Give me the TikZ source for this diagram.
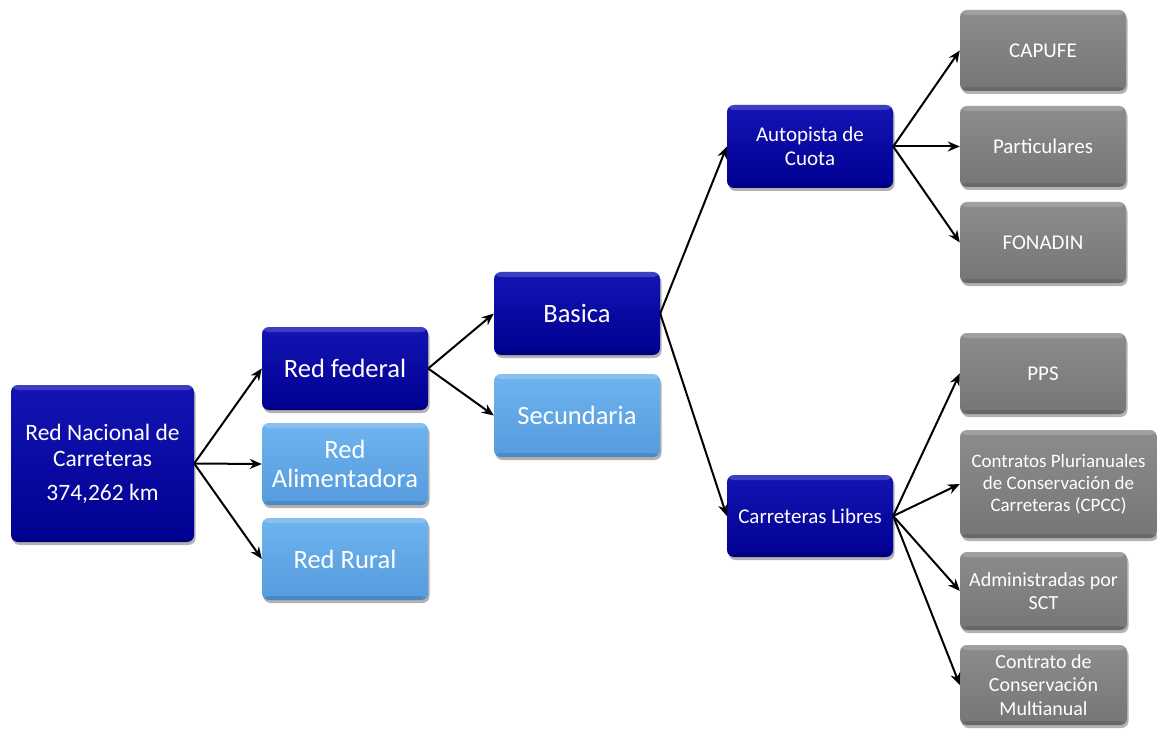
\documentclass[tikz,border=0pt]{standalone}
\usepackage{fontspec}
\setmainfont{Carlito}
\usetikzlibrary{arrows.meta,shadows}
\definecolor{dbB}{RGB}{3,3,160}
\definecolor{dbA}{RGB}{20,20,180}
\definecolor{dbC}{RGB}{0,0,145}
\definecolor{lbB}{RGB}{96,168,230}
\definecolor{lbA}{RGB}{110,180,238}
\definecolor{lbC}{RGB}{85,155,222}
\definecolor{gyB}{RGB}{128,128,128}
\definecolor{gyA}{RGB}{140,140,140}
\definecolor{gyC}{RGB}{118,118,118}
\tikzset{
  bevel/.style={path picture={
    \fill[white,opacity=0.18] (path picture bounding box.north west) rectangle ([yshift=-5pt]path picture bounding box.north east);
    \fill[black,opacity=0.12] (path picture bounding box.south west) rectangle ([yshift=4pt]path picture bounding box.south east);
  }},
  boxbase/.style={rounded corners=7pt, text=white, align=center, inner sep=2pt, bevel,
    drop shadow={shadow xshift=1.5pt, shadow yshift=-3pt, opacity=0.3, fill=black}},
  darkbox/.style={boxbase, top color=dbA, middle color=dbB, bottom color=dbC},
  lightbox/.style={boxbase, top color=lbA, middle color=lbB, bottom color=lbC},
  graybox/.style={boxbase, top color=gyA, middle color=gyB, bottom color=gyC},
  arr/.style={-{Stealth[length=12pt,width=10pt]}, line width=2pt, black},
}
\begin{document}
\begin{tikzpicture}[x=1pt,y=-1pt]
\useasboundingbox (0,0) rectangle (1157,730);
% column 1
\node[darkbox, minimum width=183pt, minimum height=157pt, font=\fontsize{23.5}{26}\selectfont] (root) at (102.5,463.5)
  {Red Nacional de\\Carreteras\\[8pt]374,262 km};
% column 2
\node[darkbox, minimum width=166pt, minimum height=83pt, font=\fontsize{26.5}{29}\selectfont] (rf) at (345,368.5) {Red federal};
\node[lightbox, minimum width=166pt, minimum height=82pt, font=\fontsize{26.5}{29}\selectfont] (ra) at (345,464) {Red\\Alimentadora};
\node[lightbox, minimum width=166pt, minimum height=82pt, font=\fontsize{26.5}{29}\selectfont] (rr) at (345,559) {Red Rural};
% column 3
\node[darkbox, minimum width=166pt, minimum height=83pt, font=\fontsize{26.5}{29}\selectfont] (bas) at (577,313.5) {Basica};
\node[lightbox, minimum width=166pt, minimum height=83pt, font=\fontsize{26.5}{29}\selectfont] (sec) at (577,415.5) {Secundaria};
% column 4
\node[darkbox, minimum width=166pt, minimum height=83pt, font=\fontsize{21}{24}\selectfont] (auto) at (810,146.5) {Autopista de\\Cuota};
\node[darkbox, minimum width=166pt, minimum height=82pt, font=\fontsize{21}{24}\selectfont] (libres) at (810,516) {Carreteras Libres};
% column 5
\node[graybox, minimum width=166pt, minimum height=81pt, font=\fontsize{21}{24}\selectfont] (capufe) at (1043,50.5) {CAPUFE};
\node[graybox, minimum width=166pt, minimum height=81pt, font=\fontsize{21}{24}\selectfont] (part) at (1043,146.5) {Particulares};
\node[graybox, minimum width=166pt, minimum height=81pt, font=\fontsize{21}{24}\selectfont] (fona) at (1043,242.5) {FONADIN};
\node[graybox, minimum width=166pt, minimum height=81pt, font=\fontsize{21}{24}\selectfont] (pps) at (1043,373.5) {PPS};
\node[graybox, minimum width=197pt, minimum height=108pt, font=\fontsize{19}{22}\selectfont] (cpcc) at (1058.5,484) {Contratos Plurianuales\\de Conservación de\\Carreteras (CPCC)};
\node[graybox, minimum width=167pt, minimum height=78pt, font=\fontsize{20}{23}\selectfont] (adm) at (1043.5,591) {Administradas por\\SCT};
\node[graybox, minimum width=167pt, minimum height=80pt, font=\fontsize{20}{23.5}\selectfont] (ccm) at (1043.5,685) {Contrato de\\Conservación\\Multianual};
% connectors
\draw[arr] (root.east) -- (rf.west);
\draw[arr] (root.east) -- (ra.west);
\draw[arr] (root.east) -- (rr.west);
\draw[arr] (rf.east) -- (bas.west);
\draw[arr] (rf.east) -- (sec.west);
\draw[arr] (bas.east) -- (auto.west);
\draw[arr] (bas.east) -- (libres.west);
\draw[arr] (auto.east) -- (capufe.west);
\draw[arr] (auto.east) -- (part.west);
\draw[arr] (auto.east) -- (fona.west);
\draw[arr] (libres.east) -- (pps.west);
\draw[arr] (libres.east) -- (cpcc.west);
\draw[arr] (libres.east) -- (adm.west);
\draw[arr] (libres.east) -- (ccm.west);
\end{tikzpicture}
\end{document}
